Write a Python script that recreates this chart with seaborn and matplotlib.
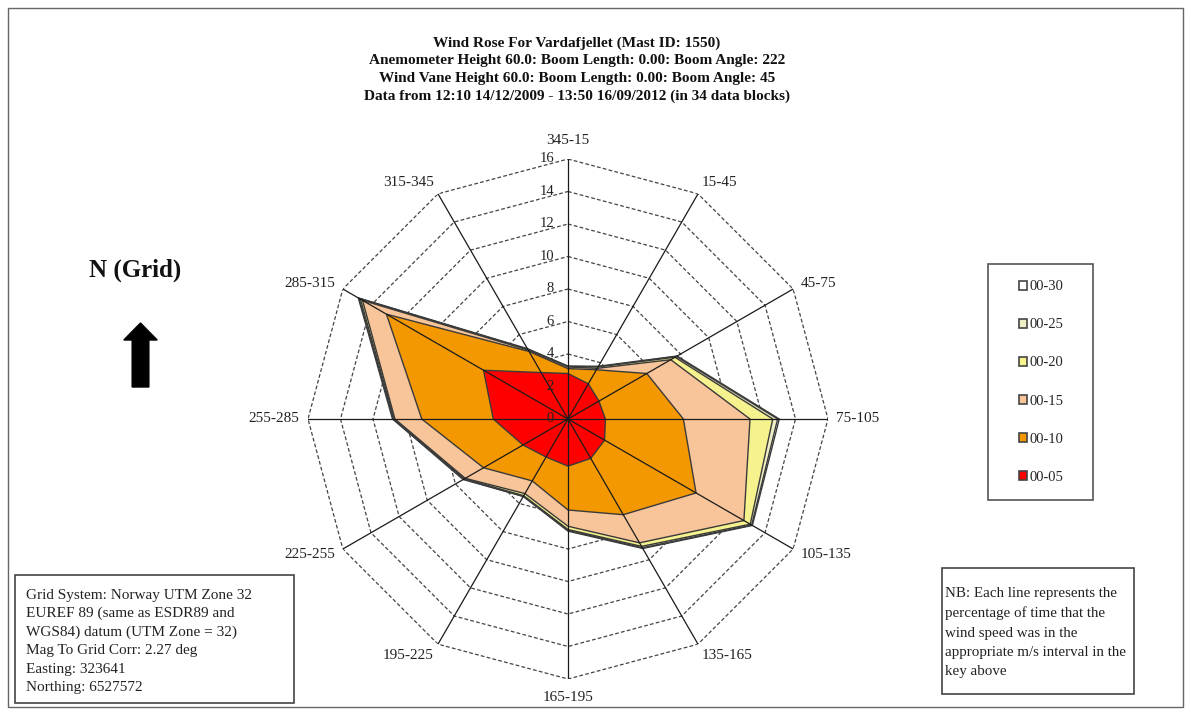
import numpy as np
import pandas as pd
import matplotlib
matplotlib.use("Agg")
import matplotlib.pyplot as plt
import seaborn as sns
from matplotlib.patches import Rectangle, Patch, FancyArrow

# Direction sectors (degrees, clockwise from grid north)
sectors = ["345-15", "15-45", "45-75", "75-105", "105-135", "135-165",
           "165-195", "195-225", "225-255", "255-285", "285-315", "315-345"]

# Cumulative percentage of time per sector for each wind-speed band (m/s)
pct_00_05 = [2.8, 2.5, 2.2, 2.3, 2.6, 2.8, 2.9, 2.7, 3.2, 4.6, 6.0, 3.3]
pct_00_10 = [3.1, 3.5, 5.6, 7.1, 9.1, 6.8, 5.6, 4.4, 6.0, 9.0, 12.9, 4.8]
pct_00_15 = [3.2, 3.6, 7.3, 11.2, 12.5, 8.8, 6.6, 5.3, 7.3, 10.65, 14.6, 4.9]
pct_00_20 = [3.2, 3.7, 7.6, 12.6, 12.95, 9.05, 6.8, 5.45, 7.35, 10.7, 14.75, 4.95]
pct_00_25 = [3.25, 3.7, 7.7, 12.9, 13.05, 9.15, 6.85, 5.5, 7.4, 10.75, 14.85, 4.95]
pct_00_30 = [3.25, 3.75, 7.75, 13.0, 13.1, 9.2, 6.9, 5.5, 7.45, 10.8, 14.9, 5.0]

speed_bins = ["00-05", "00-10", "00-15", "00-20", "00-25", "00-30"]
radial_ticks = [0, 2, 4, 6, 8, 10, 12, 14, 16]

title_lines = [
    "Wind Rose For Vardafjellet (Mast ID: 1550)",
    "Anemometer Height 60.0: Boom Length: 0.00: Boom Angle: 222",
    "Wind Vane Height 60.0: Boom Length: 0.00: Boom Angle: 45",
    "Data from 12:10 14/12/2009 - 13:50 16/09/2012 (in 34 data blocks)",
]
grid_info = [
    "Grid System: Norway UTM Zone 32",
    "EUREF 89 (same as ESDR89 and",
    "WGS84) datum (UTM Zone = 32)",
    "Mag To Grid Corr: 2.27 deg",
    "Easting: 323641",
    "Northing: 6527572",
]
note_lines = [
    "NB: Each line represents the",
    "percentage of time that the",
    "wind speed was in the",
    "appropriate m/s interval in the",
    "key above",
]

df = pd.DataFrame({"sector": sectors,
                   "00-05": pct_00_05, "00-10": pct_00_10, "00-15": pct_00_15,
                   "00-20": pct_00_20, "00-25": pct_00_25, "00-30": pct_00_30})

sns.set_theme(style="white")
plt.rcParams["font.family"] = ["Liberation Serif", "DejaVu Serif"]

band_colors = dict(zip(speed_bins, ["#ff0000", "#f39800", "#f8c59a",
                                    "#f6f38e", "#efeec6", "#ffffff"]))
edge = "#3a3a3a"

W, H = 1191, 713
fig = plt.figure(figsize=(W / 100, H / 100), dpi=100)


def fx(x):
    return x / W


def fy(y):
    return 1 - y / H


# Polar axes centred on the rose, radius 260 px
cx, cy, rad = 568, 419, 260
ax = fig.add_axes([fx(cx - rad), fy(cy + rad), 2 * rad / W, 2 * rad / H],
                  projection="polar")
ax.set_theta_zero_location("N")
ax.set_theta_direction(-1)
ax.set_ylim(0, 16)
ax.grid(False)
ax.spines["polar"].set_visible(False)
ax.set_xticks([])
ax.set_yticks([])
ax.patch.set_alpha(0)

theta = np.deg2rad(np.arange(len(sectors)) * 30.0)
theta_c = np.append(theta, theta[0])

# Dashed polygonal rings
for r in radial_ticks[1:]:
    ax.plot(theta_c, [r] * len(theta_c), color="#444444", lw=0.9,
            ls=(0, (3, 1.8)), zorder=1)

# Filled bands, largest first
for i, band in enumerate(speed_bins[::-1]):
    vals = df[band].to_numpy()
    ax.fill(theta_c, np.append(vals, vals[0]), facecolor=band_colors[band],
            edgecolor=edge, lw=1.0, zorder=2 + i)

# Spokes on top
for t in theta:
    ax.plot([t, t], [0, 16], color="#1a1a1a", lw=0.9, zorder=20)

# Radial tick labels along the north spoke
for r in radial_ticks:
    ax.annotate(str(r), xy=(0, r), xytext=(-10, 0), textcoords="offset points",
                ha="right", va="center", fontsize=10.5, color="#222222",
                zorder=21)

# Sector labels
for t, lab in zip(theta, sectors):
    sx, sy = np.sin(t), np.cos(t)
    ha = "left" if sx > 0.1 else ("right" if sx < -0.1 else "center")
    if sy > 0.6:
        va = "bottom"
    elif sy < -0.6:
        va = "top"
    else:
        va = "center"
    dy = 4.0 * sy
    if abs(sx) < 0.1:
        dy = 8.5 * sy
    elif va == "center" and abs(sy) > 0.1:
        dy = 4.0 * np.sign(sy)
    ax.annotate(lab, xy=(t, 16), xytext=(6 * sx, dy), textcoords="offset points",
                ha=ha, va=va, fontsize=11, color="#222222", annotation_clip=False)

# Title block
for k, line in enumerate(title_lines):
    fig.text(fx(577), fy(43 + 17.7 * k), line, ha="center", va="center",
             fontsize=11, fontweight="bold", color="#111111")

# North indicator
fig.text(fx(135), fy(270), "N (Grid)", ha="center", va="center",
         fontsize=18, fontweight="bold", color="#111111")
fig.add_artist(FancyArrow(fx(140.5), fy(387), 0, fy(323) - fy(387),
                          width=10 / H, head_width=20 / H,
                          head_length=17 / H, length_includes_head=True,
                          transform=fig.transFigure, color="black"))

# Legend
handles = [Patch(facecolor=band_colors[b], edgecolor="#444444", lw=1.2, label=b)
           for b in speed_bins[::-1]]
fig.legend(handles=handles, loc="center", bbox_to_anchor=(fx(1041), fy(382)),
           frameon=False, fontsize=10.5, handlelength=0.55, handleheight=0.55,
           handletextpad=0.15, labelspacing=1.72, borderpad=0)
fig.add_artist(Rectangle((fx(988), fy(500)), (1093 - 988) / W, (500 - 264) / H,
                         transform=fig.transFigure, fill=False,
                         edgecolor="#555555", lw=1.2))

# Grid information box
fig.add_artist(Rectangle((fx(15), fy(703)), (294 - 15) / W, (703 - 575) / H,
                         transform=fig.transFigure, fill=False,
                         edgecolor="#444444", lw=1.2))
for k, line in enumerate(grid_info):
    fig.text(fx(26), fy(595 + 18.5 * k), line, ha="left", va="center",
             fontsize=11, color="#222222")

# Note box
fig.add_artist(Rectangle((fx(942), fy(694)), (1134 - 942) / W, (694 - 568) / H,
                         transform=fig.transFigure, fill=False,
                         edgecolor="#444444", lw=1.2))
for k, line in enumerate(note_lines):
    fig.text(fx(945), fy(594 + 19.5 * k), line, ha="left", va="center",
             fontsize=10.8, color="#222222")

# Outer frame
fig.add_artist(Rectangle((fx(8), fy(707)), (1183 - 8) / W, (707 - 8) / H,
                         transform=fig.transFigure, fill=False,
                         edgecolor="#666666", lw=1.0))

fig.savefig("out.png", dpi=100)
